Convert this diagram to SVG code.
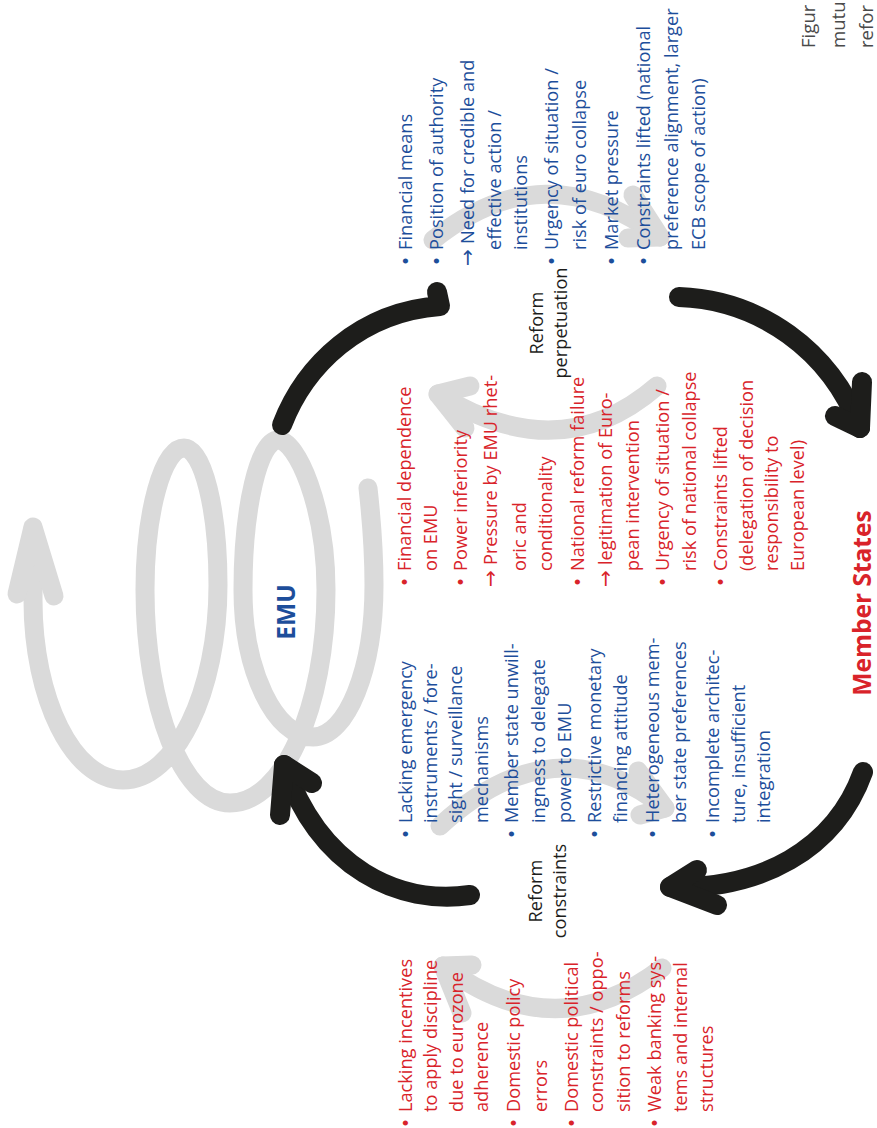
<svg xmlns="http://www.w3.org/2000/svg" width="877" height="1128" viewBox="0 0 877 1128">
<defs>
<style>
.blk{fill:none;stroke:#1d1d1b;stroke-width:20;stroke-linecap:round;stroke-linejoin:round}
.gry{fill:none;stroke:#dadada;stroke-width:19;stroke-linecap:round;stroke-linejoin:round}
text{font-family:"Open Sans","DejaVu Sans",sans-serif;font-size:18.2px}
.b{fill:#1d4e9b}
.r{fill:#d9232a}
.k{fill:#1d1d1b}
.cap{fill:#4a4a4a;font-size:18.6px}
.big{font-size:24.5px;font-weight:bold;text-anchor:middle}
.mid{text-anchor:middle}
.bul{font-family:"DejaVu Sans",sans-serif;font-size:17px}
.arw{font-family:"DejaVu Sans",sans-serif;font-size:20px}
</style>
</defs>
<rect width="877" height="1128" fill="#ffffff"/>

<g id="background-arrows">
<path class="gry" d="M368,488 C371,515 374,550 374,585 C374,669 347,737 313,737 C275,737 243,671 243,590 C243,507 259,440 278,440 C297,440 326,507 326,590 C326,707 283,803 230,803 C183,803 145,707 145,590 C145,512 163,448 184,448 C203,448 218,510 218,585 C218,692 175,780 123,780 C73,780 33,699 33,600 L33,528"/>
<path class="gry" d="M17,594 L33,527 L54,596"/>
<path class="gry" d="M433,240 Q545,150 660,237"/>
<path class="gry" d="M633,195 L660,237 L628,238"/>
<path class="gry" d="M657,386 Q560,470 438,394"/>
<path class="gry" d="M470,386 L438,394 L465,428"/>
<path class="gry" d="M440,826 Q555,720 665,808"/>
<path class="gry" d="M638,771 L665,808 L640,815"/>
<path class="gry" d="M662,968 Q555,1050 443,966"/>
<path class="gry" d="M472,965 L443,966 L462,1013"/>
</g>

<g id="connectors">
<path class="blk" d="M282,425 C305,365 360,312 440,306 L437,292"/>
<path class="blk" d="M679,297 C760,300 830,350 860,428"/>
<path class="blk" d="M835,416 L860,428 L862,382"/>
<path class="blk" d="M863,772 C835,850 760,890 670,887"/>
<path class="blk" d="M697,870 L670,887 L717,905"/>
<path class="blk" d="M470,895 C400,905 320,870 284,765"/>
<path class="blk" d="M312,783 L284,765 L280,815"/>
</g>

<g id="caption" transform="translate(0,48) rotate(-90)">
<text class="cap" x="0" y="815">Figur</text>
<text class="cap" x="0" y="845">mutu</text>
<text class="cap" x="0" y="873">refor</text>
</g>

<g id="emu" transform="translate(295,612) rotate(-90)">
<text class="b big" x="0" y="0">EMU</text>
</g>

<g id="member-states" transform="translate(871,603) rotate(-90)">
<text class="r big" x="0" y="0">Member States</text>
</g>

<g id="reform-perpetuation" transform="translate(0,323) rotate(-90)">
<text class="k mid" x="0" y="543">Reform</text>
<text class="k mid" x="0" y="567">perpetuation</text>
</g>

<g id="reform-constraints" transform="translate(0,891) rotate(-90)">
<text class="k mid" x="0" y="542">Reform</text>
<text class="k mid" x="0" y="566">constraints</text>
</g>

<g id="emu-resources" transform="translate(0,250) rotate(-90)">
<text class="b bul" x="-16" y="412">•</text><text class="b" x="0" y="412">Financial means</text>
<text class="b bul" x="-16" y="443">•</text><text class="b" x="0" y="443">Position of authority</text>
<text class="b arw" x="-16" y="474">→</text><text class="b" x="6" y="474">Need for credible and</text>
<text class="b" x="0" y="501">effective action /</text>
<text class="b" x="0" y="527">institutions</text>
<text class="b bul" x="-16" y="558">•</text><text class="b" x="0" y="558">Urgency of situation /</text>
<text class="b" x="0" y="586">risk of euro collapse</text>
<text class="b bul" x="-16" y="618">•</text><text class="b" x="0" y="618">Market pressure</text>
<text class="b bul" x="-16" y="650">•</text><text class="b" x="0" y="650">Constraints lifted (national</text>
<text class="b" x="0" y="678">preference alignment, larger</text>
<text class="b" x="0" y="705">ECB scope of action)</text>
</g>

<g id="member-state-effects" transform="translate(0,571) rotate(-90)">
<text class="r bul" x="-16" y="411">•</text><text class="r" x="0" y="411">Financial dependence</text>
<text class="r" x="0" y="437">on EMU</text>
<text class="r bul" x="-16" y="467">•</text><text class="r" x="0" y="467">Power inferiority</text>
<text class="r arw" x="-16" y="497">→</text><text class="r" x="6" y="497">Pressure by EMU rhet-</text>
<text class="r" x="0" y="526">oric and</text>
<text class="r" x="0" y="552">conditionality</text>
<text class="r bul" x="-16" y="584">•</text><text class="r" x="0" y="584">National reform failure</text>
<text class="r arw" x="-16" y="612">→</text><text class="r" x="6" y="612">legitimation of Euro-</text>
<text class="r" x="0" y="639">pean intervention</text>
<text class="r bul" x="-16" y="669">•</text><text class="r" x="0" y="669">Urgency of situation /</text>
<text class="r" x="0" y="696">risk of national collapse</text>
<text class="r bul" x="-16" y="727">•</text><text class="r" x="0" y="727">Constraints lifted</text>
<text class="r" x="0" y="753">(delegation of decision</text>
<text class="r" x="0" y="778">responsibility to</text>
<text class="r" x="0" y="804">European level)</text>
</g>

<g id="emu-constraints" transform="translate(0,823) rotate(-90)">
<text class="b bul" x="-16" y="412">•</text><text class="b" x="0" y="412">Lacking emergency</text>
<text class="b" x="0" y="437">instruments / fore-</text>
<text class="b" x="0" y="462">sight / surveillance</text>
<text class="b" x="0" y="488">mechanisms</text>
<text class="b bul" x="-16" y="518">•</text><text class="b" x="0" y="518">Member state unwill-</text>
<text class="b" x="0" y="545">ingness to delegate</text>
<text class="b" x="0" y="571">power to EMU</text>
<text class="b bul" x="-16" y="601">•</text><text class="b" x="0" y="601">Restrictive monetary</text>
<text class="b" x="0" y="627">financing attitude</text>
<text class="b bul" x="-16" y="659">•</text><text class="b" x="0" y="659">Heterogeneous mem-</text>
<text class="b" x="0" y="686">ber state preferences</text>
<text class="b bul" x="-16" y="719">•</text><text class="b" x="0" y="719">Incomplete architec-</text>
<text class="b" x="0" y="745">ture, insufficient</text>
<text class="b" x="0" y="770">integration</text>
</g>

<g id="member-state-constraints" transform="translate(0,1112) rotate(-90)">
<text class="r bul" x="-16" y="412">•</text><text class="r" x="0" y="412">Lacking incentives</text>
<text class="r" x="0" y="437">to apply discipline</text>
<text class="r" x="0" y="463">due to eurozone</text>
<text class="r" x="0" y="488">adherence</text>
<text class="r bul" x="-16" y="520">•</text><text class="r" x="0" y="520">Domestic policy</text>
<text class="r" x="0" y="547">errors</text>
<text class="r bul" x="-16" y="578">•</text><text class="r" x="0" y="578">Domestic political</text>
<text class="r" x="0" y="603">constraints / oppo-</text>
<text class="r" x="0" y="630">sition to reforms</text>
<text class="r bul" x="-16" y="661">•</text><text class="r" x="0" y="661">Weak banking sys-</text>
<text class="r" x="0" y="687">tems and internal</text>
<text class="r" x="0" y="713">structures</text>
</g>
</svg>
